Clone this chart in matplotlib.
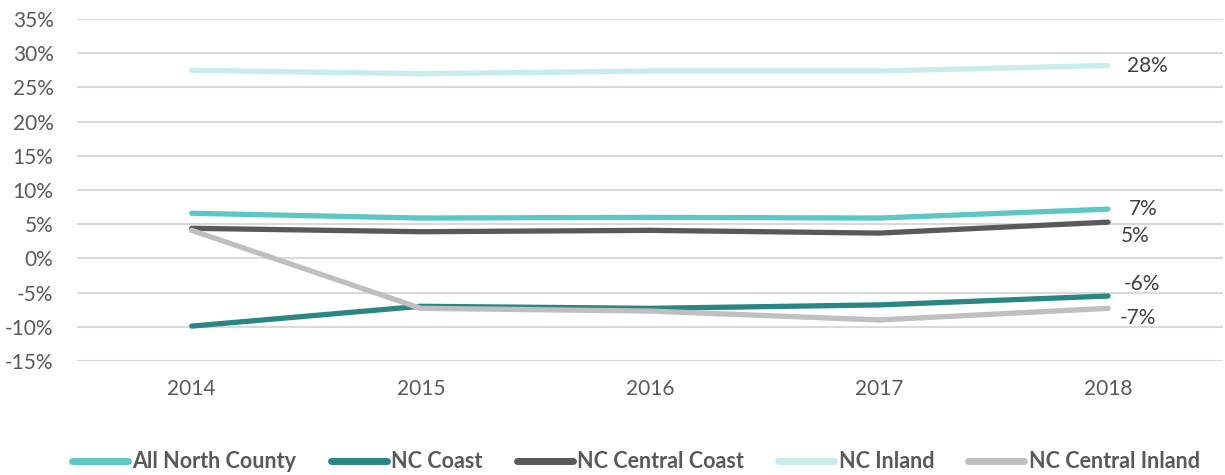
import matplotlib.pyplot as plt
import matplotlib.ticker as ticker

years = ['2014', '2015', '2016', '2017', '2018']
all_north_county = [6.6, 5.9, 6.0, 5.9, 7.2]
nc_coast = [-9.9, -7.0, -7.3, -6.8, -5.5]
nc_central_coast = [4.4, 3.9, 4.1, 3.7, 5.3]
nc_inland = [27.5, 27.0, 27.4, 27.4, 28.2]
nc_central_inland = [4.1, -7.3, -7.7, -9.0, -7.3]

series = [
    ('All North County', all_north_county, '#5BC8C6'),
    ('NC Coast', nc_coast, '#2A8682'),
    ('NC Central Coast', nc_central_coast, '#595959'),
    ('NC Inland', nc_inland, '#C7ECEA'),
    ('NC Central Inland', nc_central_inland, '#BFBFBF'),
]
# label offsets for the last point (points)
offsets = {
    'All North County': (15, 0),
    'NC Coast': (11, 9),
    'NC Central Coast': (9, -10),
    'NC Inland': (14, 0),
    'NC Central Inland': (8.5, -7),
}

plt.rcParams['font.family'] = ['Lato', 'DejaVu Sans']

fig = plt.figure(figsize=(12.25, 4.75), dpi=100)
ax = fig.add_axes([0.063, 0.24, 0.935, 0.72])

x = list(range(len(years)))
for name, vals, col in series:
    ax.plot(x, vals, color=col, lw=3.8, solid_capstyle='round', label=name)
    ax.annotate('%d%%' % round(vals[-1]), (x[-1], vals[-1]), xytext=offsets[name],
                textcoords='offset points', va='center', ha='left',
                fontsize=15, color='#404040')

ax.set_xlim(-0.5, 4.5)
ax.set_ylim(-15, 35)
ax.set_xticks(x)
ax.set_xticklabels(years)
ax.yaxis.set_major_locator(ticker.MultipleLocator(5))
ax.yaxis.set_major_formatter(ticker.FuncFormatter(lambda v, p: '%d%%' % v))
ax.grid(axis='y', color='#D9D9D9', lw=1.5)
ax.set_axisbelow(True)
for s in ax.spines.values():
    s.set_visible(False)
ax.tick_params(length=0, labelsize=15, colors='#595959')
ax.tick_params(axis='y', pad=17)
ax.tick_params(axis='x', pad=13)

leg = fig.legend(loc='lower center', bbox_to_anchor=(0.519, -0.035), ncol=5, frameon=False,
                 handlelength=2.6, handletextpad=0.2, columnspacing=1.6,
                 prop={'weight': 'bold', 'size': 15.5})
for t in leg.get_texts():
    t.set_color('#595959')
for h in leg.get_lines():
    h.set_linewidth(5)

fig.savefig('out.png', dpi=100)
